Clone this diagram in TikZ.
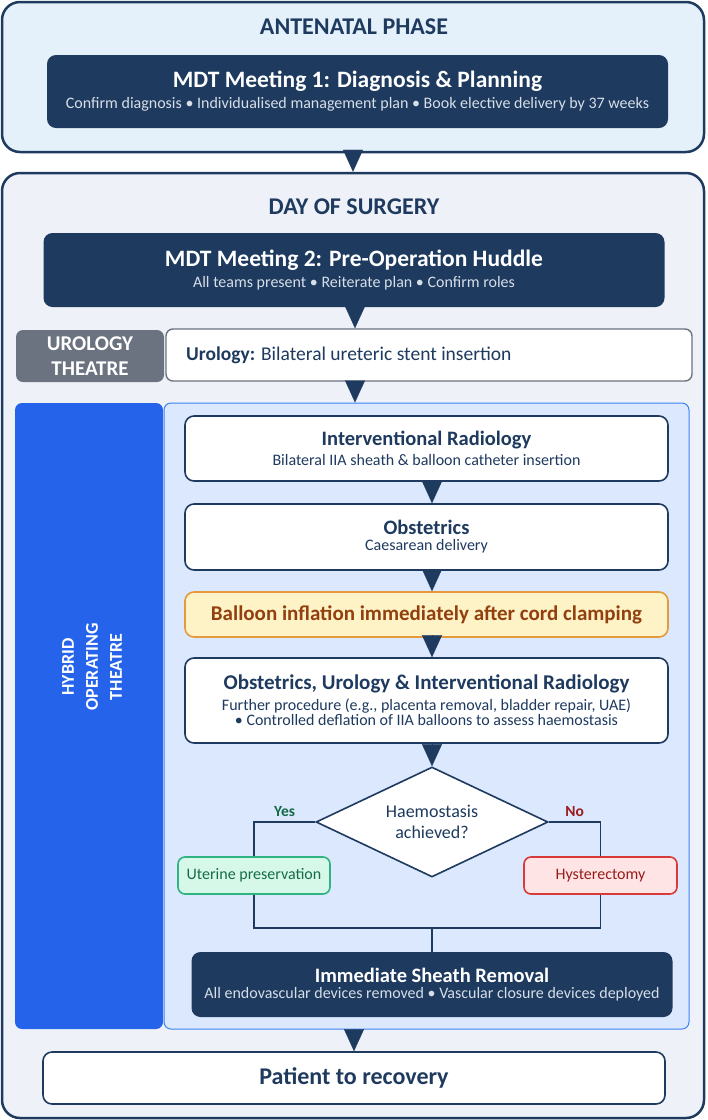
\documentclass[tikz,border=0pt]{standalone}
\usepackage{fontspec}
\setmainfont{Carlito}
\usetikzlibrary{shapes.geometric,arrows.meta}

\definecolor{navy}{HTML}{1E3A5F}
\definecolor{subgrey}{HTML}{D6DEE8}
\definecolor{antefill}{HTML}{E4F1FB}
\definecolor{dayfill}{HTML}{EEF2F8}
\definecolor{slate}{HTML}{6B7280}
\definecolor{hybblue}{HTML}{2563EB}
\definecolor{panelfill}{HTML}{DBE8FD}
\definecolor{panelline}{HTML}{3B82F6}
\definecolor{balfill}{HTML}{FEF3C7}
\definecolor{balline}{HTML}{E49A3C}
\definecolor{baltext}{HTML}{92400E}
\definecolor{yesfill}{HTML}{D5F8E8}
\definecolor{yesline}{HTML}{2FB380}
\definecolor{yestext}{HTML}{166B47}
\definecolor{nofill}{HTML}{FEE4E4}
\definecolor{noline}{HTML}{D83A3A}
\definecolor{notext}{HTML}{991B1B}

\newcommand{\fs}[1]{\fontsize{#1}{#1}\selectfont}

\begin{document}
\begin{tikzpicture}[x=1pt,y=-1pt]
\tikzstyle{every node}=[text=navy, inner sep=0pt, align=center]
\tikzstyle{phase}=[draw=navy, line width=2.5pt, rounded corners=18pt]
\tikzstyle{dark}=[fill=navy, rounded corners=9pt, text=white]
\tikzstyle{stepbox}=[draw=navy, line width=1.6pt, fill=white, rounded corners=9pt]
\tikzstyle{tri}=[-{Triangle[width=20pt,length=22pt]}, navy, line width=0.2pt]
\tikzstyle{flow}=[navy, line width=1.8pt]

\useasboundingbox (0,0) rectangle (708,1120);

% the two phases
\node[phase, fill=antefill, minimum width=702, minimum height=150] (ante) at (353,77) {};
\node[phase, fill=dayfill, minimum width=702, minimum height=945] (day) at (353,645.5) {};
\node[font=\fs{24}\bfseries] (anteT) at (354,27) {ANTENATAL PHASE};
\node[font=\fs{24}\bfseries] (dayT) at (354,207) {DAY OF SURGERY};

% meetings
\node[dark, minimum width=621, minimum height=73] (mdt1) at (357.5,91.5)
  {{\fs{23.5}\bfseries MDT Meeting 1: Diagnosis \& Planning}\\[5pt]
   {\fs{16}\color{subgrey}Confirm diagnosis \textbullet{} Individualised management plan \textbullet{} Book elective delivery by 37 weeks}};
\node[dark, minimum width=621, minimum height=74] (mdt2) at (354,270)
  {{\fs{23.5}\bfseries MDT Meeting 2: Pre-Operation Huddle}\\[5pt]
   {\fs{16}\color{subgrey}All teams present \textbullet{} Reiterate plan \textbullet{} Confirm roles}};

% urology theatre
\node[fill=slate, rounded corners=7pt, minimum width=148, minimum height=52, text=white,
  font=\fs{21}\bfseries] (uroL) at (90,356) {UROLOGY\\[4pt]THEATRE};
\node[draw=slate, line width=1.4pt, fill=white, rounded corners=7pt, minimum width=526,
  minimum height=52] (uro) at (429,355) {};
\node[anchor=west, font=\fs{19.5}] (uroT) at (186,355) {\textbf{Urology:} Bilateral ureteric stent insertion};

% hybrid operating theatre
\node[fill=hybblue, rounded corners=7pt, minimum width=148, minimum height=626] (hybL) at (89,716) {};
\node[rotate=90, text=white, font=\fs{18}\bfseries] (hybT) at (92,667) {HYBRID\\[6pt]OPERATING\\[6pt]THEATRE};
\node[draw=panelline, line width=1pt, fill=panelfill, rounded corners=7pt,
  minimum width=525, minimum height=626] (panel) at (426.5,716) {};

\node[stepbox, minimum width=483, minimum height=65] (ir) at (426.5,448.5)
  {{\fs{20.5}\bfseries Interventional Radiology}\\[4pt]{\fs{16}Bilateral IIA sheath \& balloon catheter insertion}};
\node[stepbox, minimum width=483, minimum height=66] (obs) at (426.5,537)
  {{\fs{20.5}\bfseries Obstetrics}\\[4pt]{\fs{16}Caesarean delivery}};
\node[stepbox, draw=balline, fill=balfill, minimum width=483, minimum height=45,
  text=baltext, font=\fs{21}\bfseries] (bal) at (426.5,614.5) {Balloon inflation immediately after cord clamping};
\node[stepbox, minimum width=483, minimum height=85] (ouir) at (426.5,700.5)
  {{\fs{21}\bfseries Obstetrics, Urology \& Interventional Radiology}\\[4pt]
   {\fs{16}Further procedure (e.g., placenta removal, bladder repair, UAE)}\\[1pt]
   {\fs{16}\textbullet{} Controlled deflation of IIA balloons to assess haemostasis}};

\node[diamond, draw=navy, line width=1.6pt, fill=white, aspect=2.1, minimum width=232,
  minimum height=110, font=\fs{18}] (dia) at (432,822) {Haemostasis\\[3pt]achieved?};

\node[stepbox, draw=yesline, fill=yesfill, rounded corners=7pt, minimum width=152,
  minimum height=37, text=yestext, font=\fs{16}] (uter) at (254,875.5) {Uterine preservation};
\node[stepbox, draw=noline, fill=nofill, rounded corners=7pt, minimum width=153,
  minimum height=37, text=notext, font=\fs{16}] (hyst) at (600.5,875.5) {Hysterectomy};

\node[dark, minimum width=481, minimum height=65] (imm) at (432,984.5)
  {{\fs{20.5}\bfseries Immediate Sheath Removal}\\[4pt]
   {\fs{16}\color{subgrey}All endovascular devices removed \textbullet{} Vascular closure devices deployed}};

\node[stepbox, minimum width=622, minimum height=52, font=\fs{24}\bfseries] (pat) at (354,1078) {Patient to recovery};

% decision branches
\coordinate (join) at (432,928);
\draw[flow] (dia.west) -| (uter.north) node[pos=0.25, above=4pt, text=yestext, font=\fs{15.5}\bfseries] {Yes};
\draw[flow] (dia.east) -| (hyst.north) node[pos=0.25, above=4pt, text=notext, font=\fs{15.5}\bfseries] {No};
\draw[flow] (uter.south) |- (join) -| (hyst.south);
\draw[flow] (join) -- (imm.north);

% triangles between steps
\draw[tri] (ante.south -| 353,0) -- (day.north -| 353,0);
\draw[tri] (mdt2.south -| 355,0) -- (uro.north -| 355,0);
\draw[tri] (uro.south -| 355,0) -- (panel.north -| 355,0);
\draw[tri] (ir.south -| dia.north) -- (obs.north -| dia.north);
\draw[tri] (obs.south -| dia.north) -- (bal.north -| dia.north);
\draw[tri] (bal.south -| dia.north) -- (ouir.north -| dia.north);
\draw[tri] (ouir.south -| dia.north) -- (dia.north);
\draw[tri] (panel.south -| pat.north) -- (pat.north);
\end{tikzpicture}
\end{document}
